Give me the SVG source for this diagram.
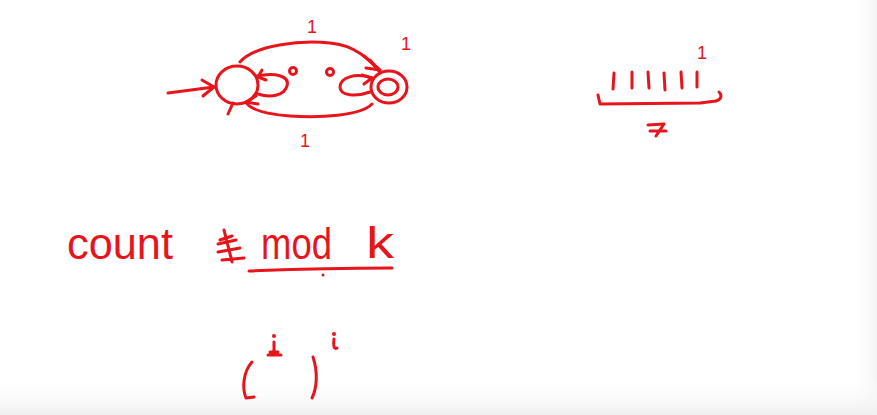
<svg xmlns="http://www.w3.org/2000/svg" width="877" height="415" viewBox="0 0 877 415">
<defs>
<style>
.s{fill:none;stroke:#e8141c;stroke-width:3;stroke-linecap:round;stroke-linejoin:round}
.t{fill:#e8141c;font-family:"Liberation Sans",Arial,sans-serif}
</style>
<linearGradient id="bg" x1="0" y1="0" x2="0" y2="1">
<stop offset="0" stop-color="#ffffff" stop-opacity="0"/>
<stop offset="1" stop-color="#efefef"/>
</linearGradient>
<linearGradient id="rg" x1="0" y1="0" x2="1" y2="0">
<stop offset="0" stop-color="#ffffff" stop-opacity="0"/>
<stop offset="1" stop-color="#f4f4f4"/>
</linearGradient>
</defs>
<rect width="877" height="415" fill="#ffffff"/>
<rect x="850" y="0" width="27" height="415" fill="url(#rg)"/>
<rect x="0" y="375" width="877" height="40" fill="url(#bg)"/>

<g id="start">
<ellipse class="s" cx="237" cy="85" rx="21" ry="19"/>
</g>
<g id="accept">
<ellipse class="s" cx="389" cy="87" rx="18" ry="16"/>
<ellipse class="s" cx="388" cy="87" rx="10" ry="8"/>
</g>

<g id="connectors">
<path class="s" d="M168 93 L214 87"/>
<path class="s" d="M202 80 L214 87 L203 96"/>
<path class="s" d="M257 76 C 275 72, 290 76, 287 86 C 284 96, 270 98, 258 94"/>
<path class="s" d="M262 70 L258 77 L266 80"/>
<path class="s" d="M372 78 C 355 72, 340 78, 340 87 C 340 96, 356 97, 370 92"/>
<path class="s" d="M362 75 L372 78 L364 84"/>
<path class="s" d="M240 62 C 255 45, 300 40, 330 43 C 355 45, 370 60, 380 72"/>
<path class="s" d="M364 56 L380 70 L366 68"/>
<path class="s" d="M370 60 L380 72"/>
<path class="s" d="M372 104 C 360 116, 320 118, 290 116 C 265 114, 250 110, 246 102"/>
<path class="s" d="M256 96 L246 102 L258 104"/>
<path class="s" d="M228 114 L233 103"/>
</g>

<g id="labels">
<text class="t" x="307" y="33" font-size="18">1</text>
<text class="t" x="300" y="147" font-size="18">1</text>
<text class="t" x="401" y="50" font-size="18">1</text>
<circle class="s" cx="293" cy="71" r="3.5" stroke-width="2"/>
<circle class="s" cx="330" cy="72" r="3.5" stroke-width="2"/>
</g>

<g id="tally">
<path class="s" d="M614 73 L613 89 M632 72 L632 88 M648 72 L649 88 M664 73 L665 90 M681 72 L682 88 M697 72 L697 87"/>
<path class="s" d="M598 95 L600 104 L700 103 L716 101 C 722 99, 722 95, 719 92"/>
<text class="t" x="697" y="59" font-size="18">1</text>
<path class="s" d="M648 125 L664 124 L656 136 M650 131 L666 131"/>
</g>

<g id="count-expr">
<text class="t" x="67" y="259" font-size="44" textLength="106" lengthAdjust="spacingAndGlyphs">count</text>
<path class="s" d="M224 230 L232 262 M218 244 L236 240 M218 252 L240 248 M222 260 L244 258 M220 240 L232 236"/>
<text class="t" x="261" y="259" font-size="44" textLength="71" lengthAdjust="spacingAndGlyphs">mod</text>
<text class="t" x="366" y="258" font-size="44" textLength="28" lengthAdjust="spacingAndGlyphs">k</text>
<path class="s" d="M249 271 C 300 269, 350 268, 392 268"/>
<circle cx="323" cy="275" r="1.5" fill="#e8141c"/>
</g>

<g id="paren-expr">
<path class="s" d="M252 362 C 243 372, 242 388, 246 398 L254 397"/>
<path class="s" d="M313 357 C 318 372, 317 388, 312 398"/>
<circle cx="274" cy="336" r="2" fill="#e8141c"/>
<path class="s" d="M274 342 L274 355 M268 355 L281 355 M270 352 L278 352"/>
<circle cx="334" cy="334" r="2" fill="#e8141c"/>
<path class="s" d="M334 339 C 333 345, 334 350, 337 348"/>
</g>
</svg>
